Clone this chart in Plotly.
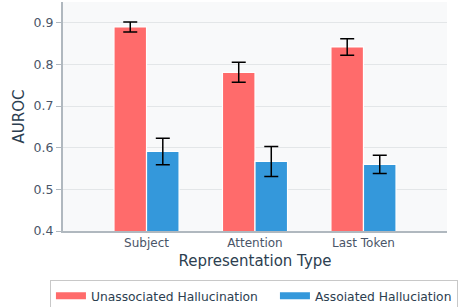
import plotly.graph_objects as go

categories = ["Subject", "Attention", "Last Token"]
unassoc = [0.890, 0.781, 0.842]
unassoc_err = [0.012, 0.024, 0.020]
assoc = [0.591, 0.567, 0.560]
assoc_err = [0.032, 0.036, 0.022]
series_names = ["Unassociated Hallucination", "Assoiated Halluciation"]
colors = ["#FF6B6B", "#3498DB"]
y_ticks = [0.4, 0.5, 0.6, 0.7, 0.8, 0.9]

fig = go.Figure()
for vals, errs, name, col in [(unassoc, unassoc_err, series_names[0], colors[0]),
                              (assoc, assoc_err, series_names[1], colors[1])]:
    fig.add_trace(go.Bar(
        x=categories, y=vals, name=name, showlegend=False,
        marker=dict(color=col, line=dict(color="white", width=1.2)),
        error_y=dict(type="data", array=errs, color="black", thickness=1.5, width=7),
    ))
for i, (name, col) in enumerate(zip(series_names, colors)):
    fig.add_trace(go.Scatter(x=[None], y=[None], mode="lines", name=name,
                             line=dict(color=col, width=7),
                             legendwidth=179 if i == 0 else None))

fig.update_layout(
    width=458, height=307,
    barmode="group", bargap=0.4, bargroupgap=0.0,
    margin=dict(l=63, r=11, t=2, b=76, autoexpand=False),
    paper_bgcolor="white", plot_bgcolor="#F8F9FA",
    font=dict(family="DejaVu Sans", size=12, color="#2C3E50"),
    legend=dict(orientation="h", x=-0.034, xanchor="left", y=-0.215, yanchor="top",
                bgcolor="white", bordercolor="#C8C8C8", borderwidth=1,
                font=dict(size=12.3, color="#2C3E50"), itemwidth=30),
    xaxis=dict(title=dict(text="Representation Type", font=dict(size=15, color="#2C3E50"), standoff=6),
               range=[-0.77, 2.77], showline=True, linecolor="#B0B8BF", linewidth=2,
               tickfont=dict(size=12, color="#4A5568"), showgrid=False),
    yaxis=dict(title=dict(text="AUROC", font=dict(size=15, color="#2C3E50"), standoff=5),
               range=[0.4, 0.95], tickvals=y_ticks, ticks="outside", ticklen=5, tickcolor="#B0B8BF",
               showline=True, linecolor="#B0B8BF", linewidth=2, gridcolor="#E3E6E8",
               tickfont=dict(size=12.5, color="#4A5568"), zeroline=False),
)

fig.write_html("out.html", config={"displayModeBar": False},
               post_script="document.body.style.margin='0';")
